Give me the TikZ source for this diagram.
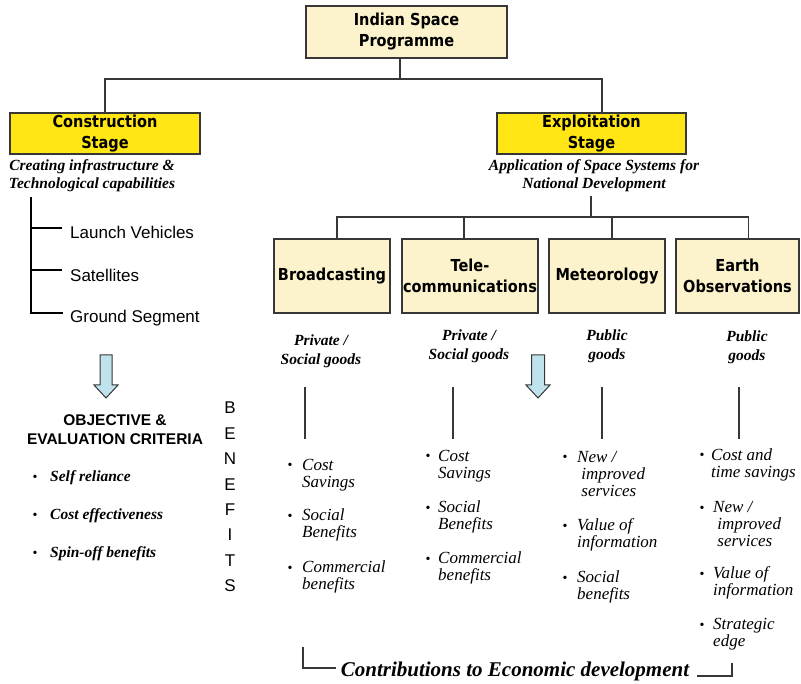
\documentclass[tikz,border=0pt]{standalone}
\usepackage{fontspec}
\setmainfont{Liberation Serif}
\newfontfamily\sansf{Liberation Sans}
\newfontfamily\boxfont[FakeStretch=0.88]{DejaVu Sans}
\definecolor{yel}{RGB}{255,230,20}
\definecolor{cream}{RGB}{252,243,204}
\definecolor{edgec}{RGB}{55,55,55}
\definecolor{arrowfill}{RGB}{192,226,236}
\newcommand\istrut{\rule{0pt}{12pt}}
\newcommand\gstrut{\rule{0pt}{11pt}}
\tikzset{
  boxlabel/.style={draw=edgec, line width=1.3pt, font=\boxfont\bfseries\fontsize{16.5}{21}\selectfont, align=center, inner sep=0pt},
  crm/.style={boxlabel, fill=cream},
  ylw/.style={boxlabel, fill=yel},
  subt/.style={font=\bfseries\itshape\fontsize{15.5}{18}\selectfont, align=center, inner sep=0pt},
  goods/.style={font=\bfseries\itshape\fontsize{15.5}{19.5}\selectfont, align=center, inner sep=0pt, anchor=north},
  item/.style={font=\itshape\fontsize{17}{17.3}\selectfont, align=left, inner sep=0pt, anchor=north west},
  bul/.style={font=\fontsize{14}{14}\selectfont, inner sep=0pt, anchor=base},
  crit/.style={font=\bfseries\itshape\fontsize{15.5}{18}\selectfont, inner sep=0pt, anchor=base west},
  sitem/.style={font=\sansf\fontsize{17}{20}\selectfont, inner sep=0pt, anchor=base west},
  conn/.style={draw=edgec, line width=1.3pt},
  tick/.style={draw=black, line width=2.4pt},
  bigarrow/.style={draw=edgec, line width=1pt, fill=arrowfill, line join=miter}
}
\begin{document}
\begin{tikzpicture}[x=1pt,y=-1pt]
\useasboundingbox (0,0) rectangle (801,684);
\fill[white] (0,0) rectangle (801,684);

% top level
\node[crm, minimum width=201pt, minimum height=52pt] (top) at (406.5,32) {Indian Space\\Programme};
\node[ylw, minimum width=190pt, minimum height=41pt] (cons) at (105,133.5) {Construction\\Stage};
\node[ylw, minimum width=189pt, minimum height=41pt] (expl) at (591.5,133.5) {Exploitation\\Stage};
\coordinate (jt) at (400,79);
\draw[conn] (top.south -| jt) -- (jt);
\draw[conn] (cons.north) |- (jt) -| ([xshift=10.5pt]expl.north);

% subtitles
\node[subt] (conssub) at (92,176) {Creating infrastructure \&\\Technological capabilities};
\node[subt] (explsub) at (594,176) {Application of Space Systems for\\National Development};

% construction list
\coordinate (ct) at (31,197);
\coordinate (c1) at (31,228);
\coordinate (c2) at (31,270);
\coordinate (c3) at (31,313);
\node[sitem] (lv) at (70,239) {Launch Vehicles};
\node[sitem] (sat) at (70,282) {Satellites};
\node[sitem] (gs) at (70,323) {Ground Segment};
\draw[tick] (ct) -- (c3);
\draw[tick] (c1) -- ++(31,0);
\draw[tick] (c2) -- ++(31,0);
\draw[tick,line cap=rect] (c3) -- ++(31,0);

% application boxes
\node[crm, minimum width=116pt, minimum height=74pt] (broad) at (332,276) {Broadcasting};
\node[crm, minimum width=136pt, minimum height=74pt] (tele) at (470,276) {Tele-\\communications};
\node[crm, minimum width=116pt, minimum height=74pt] (meteo) at (607,276) {Meteorology};
\node[crm, minimum width=123pt, minimum height=74pt] (earth) at (737.5,276) {Earth\\Observations};
\coordinate (js) at (591,196);
\coordinate (je) at (591,217);
\draw[conn] (js) -- (je);
\draw[conn] ([xshift=5pt]broad.north) |- (je) -| ([xshift=11pt]earth.north);
\draw[conn] ([xshift=-6pt]tele.north) -- ++(0,-22);
\draw[conn] ([xshift=5pt]meteo.north) -- ++(0,-22);

% goods
\node[goods] (g1) at (321,334) {\gstrut Private /\\Social goods};
\node[goods] (g2) at (469,329) {\gstrut Private /\\Social goods};
\node[goods] (g3) at (607,329) {\gstrut Public\\goods};
\node[goods] (g4) at (747,330) {\gstrut Public\\goods};
\draw[conn] (305,387) -- (305,439);
\draw[conn] (453,387) -- (453,439);
\draw[conn] (602,387) -- (602,439);
\draw[conn] (739,387) -- (739,439);

% arrows
\draw[bigarrow] (100,355) -- (112,355) -- (112,385) -- (118,385) -- (106,398) -- (94,385) -- (100,385) -- cycle;
\draw[bigarrow] (531.5,355) -- (544.5,355) -- (544.5,385) -- (550,385) -- (538,398) -- (526,385) -- (531.5,385) -- cycle;

% objective
\node[font=\sansf\bfseries\fontsize{15.5}{19.5}\selectfont, align=center, inner sep=0pt, anchor=north] (obj) at (115,414) {OBJECTIVE \&\\EVALUATION CRITERIA};
\node[bul] (cb1) at (35,482) {•};
\node[crit] (cr1) at (50,482) {Self reliance};
\node[bul] (cb2) at (35,519) {•};
\node[crit] (cr2) at (50,519) {Cost effectiveness};
\node[bul] (cb3) at (35,557) {•};
\node[crit] (cr3) at (50,557) {Spin-off benefits};

% BENEFITS
\node[font=\sansf\fontsize{17}{25.4}\selectfont, align=center, inner sep=0pt, anchor=north] (benef) at (230,402) {B\\E\\N\\E\\F\\I\\T\\S};

% broadcasting list
\node[bul] (bb1) at (290,470) {•};
\node[item] (bi1) at (302,458) {\istrut Cost\\Savings};
\node[bul] (bb2) at (290,520) {•};
\node[item] (bi2) at (302,508) {\istrut Social\\Benefits};
\node[bul] (bb3) at (290,572) {•};
\node[item] (bi3) at (302,560) {\istrut Commercial\\benefits};

% tele list
\node[bul] (tb1) at (428,461) {•};
\node[item] (ti1) at (438,449) {\istrut Cost\\Savings};
\node[bul] (tb2) at (428,512) {•};
\node[item] (ti2) at (438,500) {\istrut Social\\Benefits};
\node[bul] (tb3) at (428,563) {•};
\node[item] (ti3) at (438,551) {\istrut Commercial\\benefits};

% meteorology list
\node[bul] (mb1) at (565,462) {•};
\node[item] (mi1) at (577,450) {\istrut New /\\\ improved\\\ services};
\node[bul] (mb2) at (565,530) {•};
\node[item] (mi2) at (577,518) {\istrut Value of\\information};
\node[bul] (mb3) at (565,582) {•};
\node[item] (mi3) at (577,570) {\istrut Social\\benefits};

% earth list
\node[bul] (eb1) at (702,460) {•};
\node[item] (ei1) at (711,448) {\istrut Cost and\\time savings};
\node[bul] (eb2) at (702,512) {•};
\node[item] (ei2) at (713,500) {\istrut New /\\\ improved\\\ services};
\node[bul] (eb3) at (702,578) {•};
\node[item] (ei3) at (713,566) {\istrut Value of\\information};
\node[bul] (eb4) at (702,629) {•};
\node[item] (ei4) at (713,617) {\istrut Strategic\\edge};

% contributions
\node[font=\bfseries\itshape\fontsize{21}{24}\selectfont, inner sep=0pt, anchor=base] (contrib) at (515,676) {Contributions to Economic development};
\coordinate (bl) at (303,647);
\coordinate (br) at (732,663);
\draw[conn] (bl) |- ([xshift=-5pt]contrib.west |- 0,668);
\draw[conn] (br) |- ([xshift=8pt]contrib.east |- 0,676);
\end{tikzpicture}
\end{document}
